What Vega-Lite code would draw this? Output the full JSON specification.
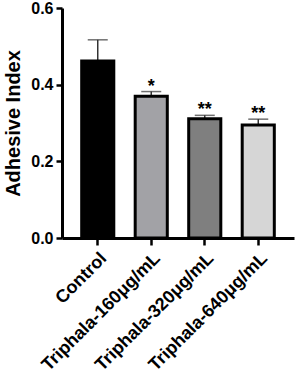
{
  "$schema": "https://vega.github.io/schema/vega-lite/v6.json",
  "width": 232,
  "height": 230,
  "autosize": {"type": "none"},
  "padding": {"left": 62, "top": 8, "right": 3, "bottom": 136},
  "background": "white",
  "config": {
    "view": {"stroke": null},
    "font": "Liberation Sans"
  },
  "data": {
    "values": [
      {"group": "Control", "value": 0.462, "upper": 0.517, "sig": ""},
      {"group": "Triphala-160μg/mL", "value": 0.370, "upper": 0.382, "sig": "*"},
      {"group": "Triphala-320μg/mL", "value": 0.311, "upper": 0.320, "sig": "**"},
      {"group": "Triphala-640μg/mL", "value": 0.295, "upper": 0.310, "sig": "**"}
    ]
  },
  "encoding": {
    "x": {
      "field": "group", "type": "nominal", "sort": null,
      "scale": {"paddingInner": 0.4, "paddingOuter": 0.368},
      "axis": {
        "title": null, "labelAngle": -45, "labelAlign": "right", "labelBaseline": "top",
        "labelFont": "Liberation Sans", "labelFontWeight": "bold", "labelFontSize": 18,
        "labelColor": "black", "labelPadding": 4, "labelLimit": 300,
        "domainColor": "black", "domainWidth": 3, "tickColor": "black", "tickWidth": 2.5, "tickSize": 7
      }
    }
  },
  "layer": [
    {
      "mark": {"type": "rule", "color": "#333333", "strokeWidth": 1.5},
      "encoding": {
        "y": {"field": "value", "type": "quantitative"},
        "y2": {"field": "upper"}
      }
    },
    {
      "mark": {"type": "tick", "color": "#333333", "thickness": 1.5, "size": 20},
      "encoding": {
        "y": {"field": "upper", "type": "quantitative"}
      }
    },
    {
      "mark": {"type": "bar", "stroke": "black", "strokeWidth": 3},
      "encoding": {
        "y": {
          "field": "value", "type": "quantitative",
          "scale": {"domain": [0, 0.6], "nice": false},
          "axis": {
            "title": "Adhesive Index", "values": [0, 0.2, 0.4, 0.6], "format": ".1f",
            "titleFont": "Liberation Sans", "titleFontWeight": "bold", "titleFontSize": 20, "titleColor": "black",
            "titlePadding": 7,
            "labelFont": "Liberation Sans", "labelFontWeight": "bold", "labelFontSize": 16, "labelColor": "black",
            "labelPadding": 3, "grid": false,
            "domainColor": "black", "domainWidth": 3, "tickColor": "black", "tickWidth": 2.5, "tickSize": 6
          }
        },
        "color": {
          "field": "group", "type": "nominal", "sort": null, "legend": null,
          "scale": {"range": ["#000000", "#a2a2a6", "#7f7f7f", "#d6d6d6"]}
        }
      }
    },
    {
      "mark": {"type": "text", "baseline": "bottom", "dy": 4, "fontSize": 18, "fontWeight": "bold", "color": "black"},
      "encoding": {
        "y": {"field": "upper", "type": "quantitative"},
        "text": {"field": "sig"}
      }
    }
  ]
}
